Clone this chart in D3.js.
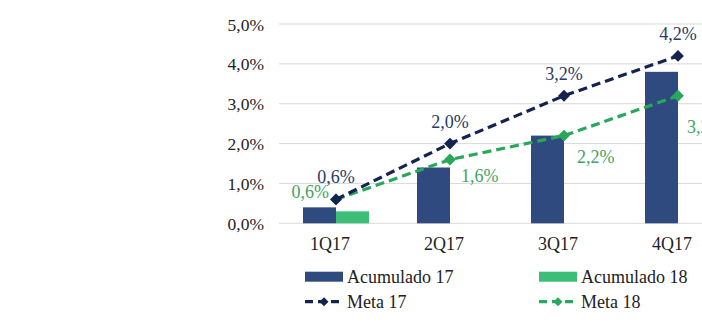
<!DOCTYPE html>
<html><head><meta charset="utf-8">
<script src="https://cdn.jsdelivr.net/npm/d3@7"></script>
<style>html,body{margin:0;padding:0;background:#fff;overflow:hidden}</style>
</head><body>
<svg id="c" width="702" height="336"></svg>
<script>
const categories = ["1Q17","2Q17","3Q17","4Q17"];
const acumulado17 = [0.4, 1.4, 2.2, 3.8];
const acumulado18 = [0.3, null, null, null];
const meta17 = [0.6, 2.0, 3.2, 4.2];
const meta18 = [0.6, 1.6, 2.2, 3.2];
const yTicks = [0,1,2,3,4,5];
const seriesNames = ["Acumulado 17","Acumulado 18","Meta 17","Meta 18"];

(function(){
const C = {bar17:"#2E4A7E", bar18:"#3DBE78", line17:"#14234F", line18:"#27A85A", txt17:"#2A3A66", txt18:"#3FA465", grid:"#D9D9D9"};
const font = "'Liberation Serif','Times New Roman',serif";

const svg = d3.select("#c");
const left = 279, step = 114, topY = 24, bottom = 223.3;
const x = d3.scaleBand().domain(categories).range([left, left + step*categories.length]).paddingInner(0).paddingOuter(0);
const y = d3.scaleLinear().domain([0,5]).range([bottom, topY]);
const cx = c => x(c) + x.bandwidth()/2;
const fmt = v => d3.format(".1f")(v).replace(".", ",") + "%";
const barW = 33;

// gridlines
svg.append("g").selectAll("line").data(yTicks).join("line")
  .attr("x1", left).attr("x2", 702)
  .attr("y1", d => y(d)).attr("y2", d => y(d))
  .attr("stroke", C.grid).attr("stroke-width", 1);

// y axis labels
const yAxis = d3.axisLeft(y).tickValues(yTicks).tickSize(0).tickPadding(0).tickFormat(d => fmt(d));
const ga = svg.append("g").attr("transform", `translate(${264},0)`).call(yAxis);
ga.select(".domain").remove();
ga.selectAll("text").attr("font-family", font).attr("font-size", 17.5).attr("fill", "#222").attr("dy", "0.35em");

// x axis labels
const xAxis = d3.axisBottom(x).tickSize(0).tickPadding(0);
const gx = svg.append("g").attr("transform", `translate(-6,${bottom + 10})`).call(xAxis);
gx.select(".domain").remove();
gx.selectAll("text").attr("font-family", font).attr("font-size", 18).attr("fill", "#222").attr("dy", "0.95em");

// bars
svg.append("g").selectAll("rect").data(categories.map((c,i)=>({c,v:acumulado17[i]}))).join("rect")
  .attr("x", d => cx(d.c) - barW).attr("width", barW)
  .attr("y", d => y(d.v)).attr("height", d => y(0) - y(d.v)).attr("fill", C.bar17);
svg.append("g").selectAll("rect").data(categories.map((c,i)=>({c,v:acumulado18[i]})).filter(d=>d.v!=null)).join("rect")
  .attr("x", d => cx(d.c)).attr("width", barW)
  .attr("y", d => y(d.v)).attr("height", d => y(0) - y(d.v)).attr("fill", C.bar18);

// lines
const line = d3.line().x(d => cx(d.c)).y(d => y(d.v));
function drawLine(vals, color) {
  const data = categories.map((c,i)=>({c,v:vals[i]}));
  svg.append("path").datum(data).attr("d", line).attr("fill","none")
    .attr("stroke", color).attr("stroke-width", 3.2).attr("stroke-dasharray", "9,5");
  svg.append("g").selectAll("path").data(data).join("path")
    .attr("d", d3.symbol().type(d3.symbolSquare).size(70))
    .attr("transform", d => `translate(${cx(d.c)},${y(d.v)}) rotate(45)`).attr("fill", color);
  return data;
}
const d18 = drawLine(meta18, C.line18);
const d17 = drawLine(meta17, C.line17);

// labels meta 17 (above)
svg.append("g").selectAll("text").data(d17).join("text")
  .attr("x", d => cx(d.c)).attr("y", d => y(d.v) - 16)
  .attr("text-anchor","middle").attr("font-family", font).attr("font-size", 18).attr("fill", C.txt17)
  .text(d => fmt(d.v));
// labels meta 18
const off18 = [[-7, -1, "end"], [11, 22, "start"], [13, 27, "start"], [9, 37, "start"]];
svg.append("g").selectAll("text").data(d18).join("text")
  .attr("x", (d,i) => cx(d.c) + off18[i][0]).attr("y", (d,i) => y(d.v) + off18[i][1])
  .attr("text-anchor",(d,i)=>off18[i][2]).attr("font-family", font).attr("font-size", 18).attr("fill", C.txt18)
  .text(d => fmt(d.v));

// legend
const leg = [
  {name: seriesNames[0], type:"bar", color:C.bar17, x:305, y:276.7},
  {name: seriesNames[1], type:"bar", color:C.bar18, x:539, y:276.7},
  {name: seriesNames[2], type:"line", color:C.line17, x:305, y:301.7},
  {name: seriesNames[3], type:"line", color:C.line18, x:539, y:301.7}
];
const lg = svg.append("g");
leg.forEach(l => {
  if (l.type === "bar") {
    lg.append("rect").attr("x", l.x).attr("y", l.y - 5).attr("width", 38).attr("height", 10).attr("fill", l.color);
  } else {
    lg.append("line").attr("x1", l.x).attr("x2", l.x+38).attr("y1", l.y).attr("y2", l.y)
      .attr("stroke", l.color).attr("stroke-width", 3.2).attr("stroke-dasharray", "8,5");
    lg.append("path").attr("d", d3.symbol().type(d3.symbolSquare).size(40))
      .attr("transform", `translate(${l.x+19},${l.y}) rotate(45)`).attr("fill", l.color);
  }
  lg.append("text").attr("x", l.x + 42).attr("y", l.y).attr("dy","0.35em")
    .attr("font-family", font).attr("font-size", 18).attr("fill", "#222").text(l.name);
});
})();
</script>
</body></html>
